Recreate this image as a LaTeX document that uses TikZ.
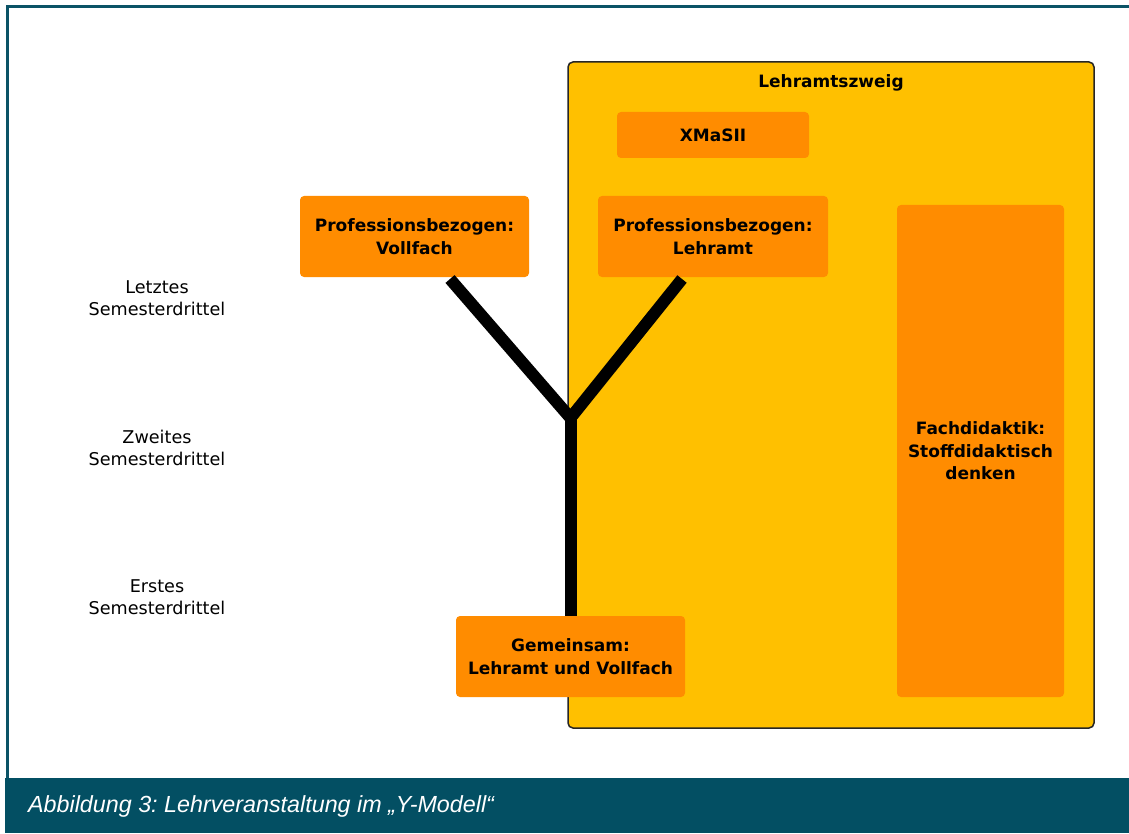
\documentclass[tikz,border=0pt]{standalone}
\usepackage{fontspec}
\setmainfont{DejaVu Sans}
\newfontfamily\capfont{Liberation Sans}
\definecolor{frameteal}{HTML}{0B5366}
\definecolor{bandteal}{HTML}{034F63}
\definecolor{gold}{HTML}{FFC000}
\definecolor{orng}{HTML}{FF8C00}
\frenchspacing
\begin{document}
\begin{tikzpicture}[x=1pt,y=-1pt,
  obox/.style={fill=orng, rounded corners=4pt, draw=none, align=center,
    font=\bfseries\fontsize{17}{22.5}\selectfont, inner sep=0pt},
  lbl/.style={align=center, font=\fontsize{17.6}{22}\selectfont},
  ystroke/.style={line width=12pt, black}]
\useasboundingbox (0,0) rectangle (1129,834);
\fill[white] (0,0) rectangle (1129,834);
\draw[frameteal, line width=3pt] (7,778) -- (7,7) -- (1129,7);
\fill[bandteal] (5,778) rectangle (1129,833);
\node[anchor=west, text=white, inner sep=0pt,
  font=\capfont\itshape\fontsize{23.3}{26}\selectfont] (cap) at (28,806)
  {Abbildung 3: Lehrveranstaltung im „Y-Modell“};

\node[draw=black!85, line width=1.5pt, fill=gold, rounded corners=5pt,
  minimum width=526pt, minimum height=666pt] (zweig) at (831,395) {};
\node[font=\bfseries\fontsize{17}{22}\selectfont] (ztitle) at (831,83) {Lehramtszweig};

\node[obox, minimum width=192pt, minimum height=46pt] (xm) at (713,135) {XMaSII};
\node[obox, minimum width=229pt, minimum height=81pt] (vf) at (414.5,236.5) {Professionsbezogen:\\Vollfach};
\node[obox, minimum width=230pt, minimum height=81pt] (la) at (713,236.5) {Professionsbezogen:\\Lehramt};
\node[obox, minimum width=167pt, minimum height=492pt] (fd) at (980.5,451) {Fachdidaktik:\\Stoffdidaktisch\\denken};
\node[obox, minimum width=229pt, minimum height=81pt] (gm) at (570.5,656.5) {Gemeinsam:\\Lehramt und Vollfach};

\node[lbl] (l3) at (157,298) {Letztes\\Semesterdrittel};
\node[lbl] (l2) at (157,448) {Zweites\\Semesterdrittel};
\node[lbl] (l1) at (157,597.5) {Erstes\\Semesterdrittel};

\coordinate (ya) at (450,279);
\coordinate (yb) at (682,279);
\coordinate (yj) at (570.5,418);
\draw[ystroke, line join=miter] (ya) -- (yj) -- (yb);
\draw[ystroke] (yj) -- (gm.north);
\end{tikzpicture}
\end{document}
